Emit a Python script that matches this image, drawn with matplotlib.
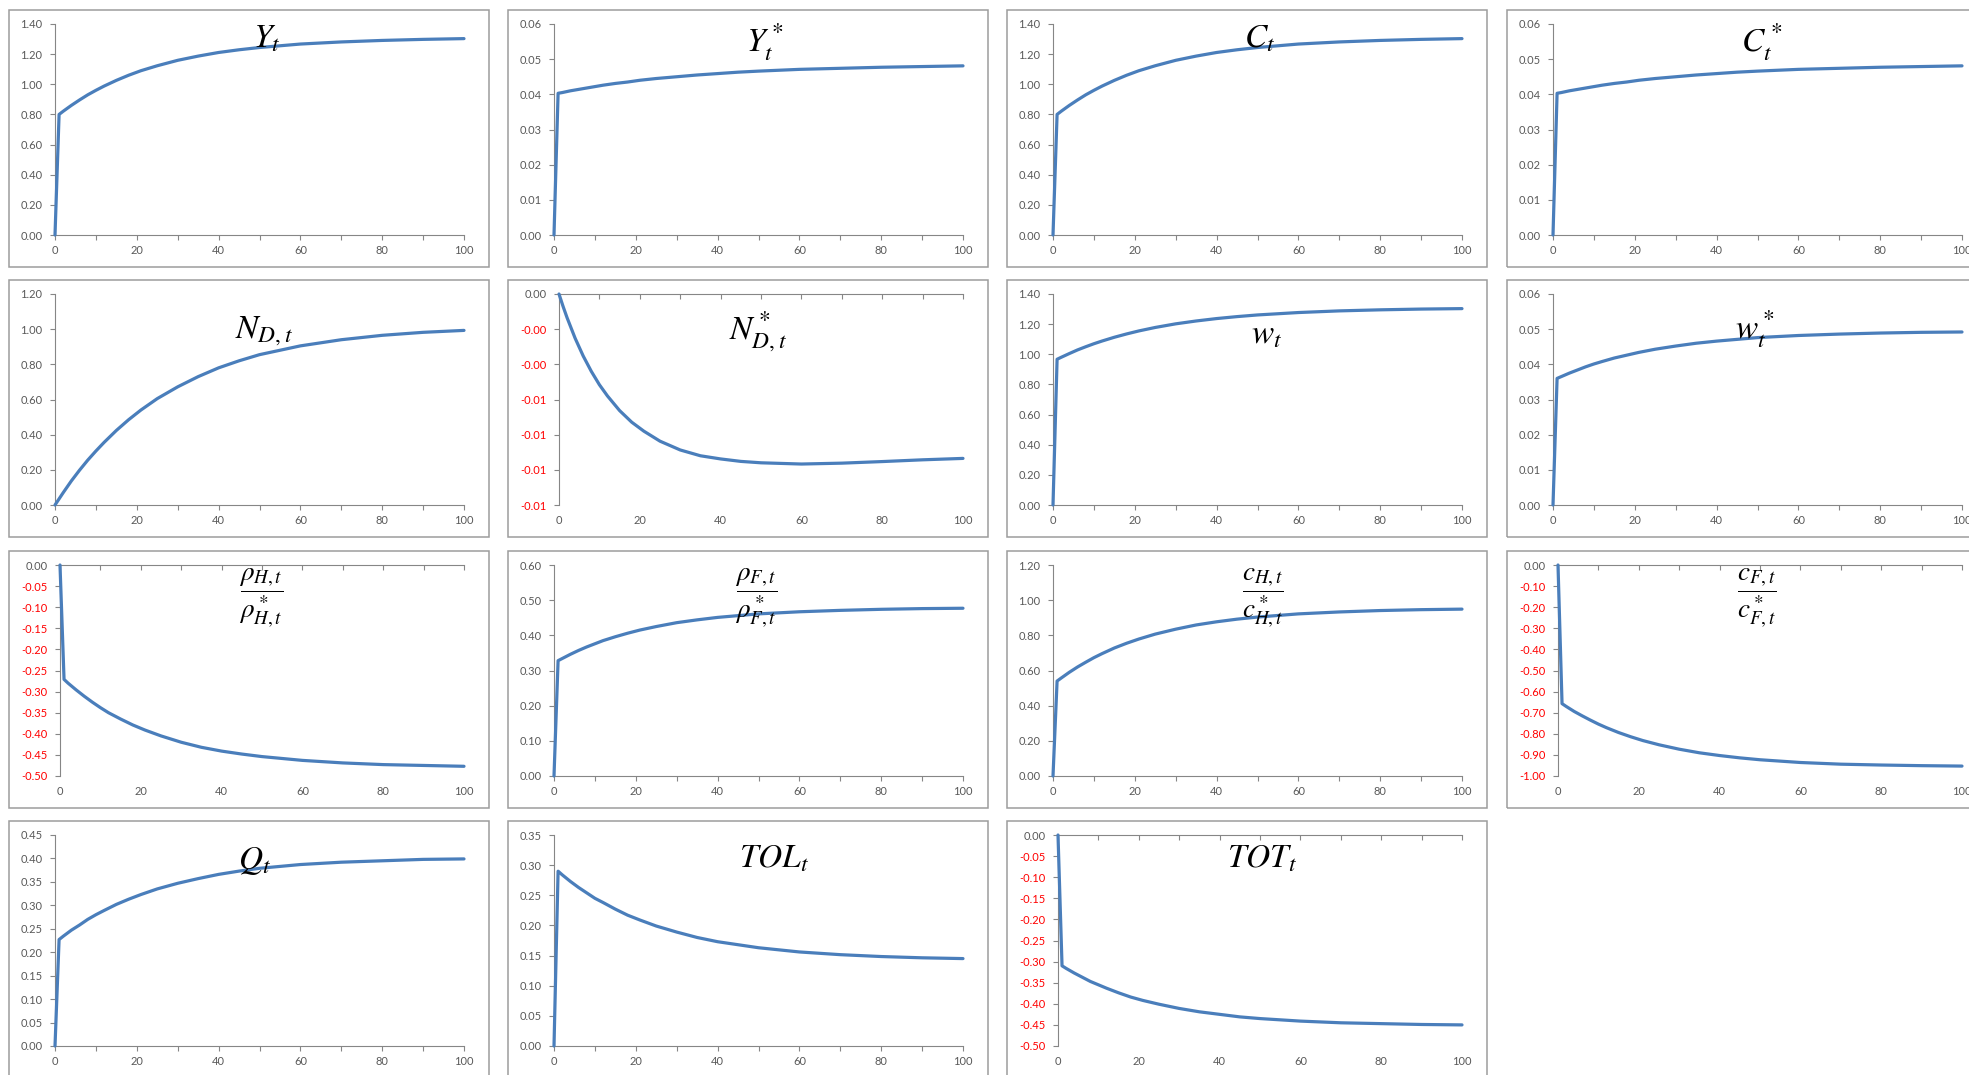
"""
Impulse responses, 15 small Excel-style panels laid out on a 4x4 grid.
Values were read off the original chart at a handful of periods.
"""

import numpy as np
import matplotlib
matplotlib.use("Agg")
import matplotlib.pyplot as plt
from matplotlib.patches import Rectangle

plt.rcParams["mathtext.fontset"] = "stix"
plt.rcParams["font.family"] = ["Lato", "DejaVu Sans"]

W, H = 1969, 1075

# periods at which the curves were read
T = [0, 1, 2, 4, 6, 8, 10, 12, 15, 18, 21, 25, 30, 35, 40, 45, 50, 60, 70, 80, 90, 100]

Y_t = [0, 0.80, 0.821, 0.86, 0.896, 0.93, 0.96, 0.988, 1.026, 1.06, 1.09,
       1.123, 1.159, 1.187, 1.211, 1.229, 1.244, 1.267, 1.281, 1.291, 1.298, 1.303]
Y_star = [0, 0.0403, 0.0405, 0.0410, 0.0414, 0.0418, 0.0422, 0.0426, 0.0431,
          0.0435, 0.0440, 0.0445, 0.0450, 0.0455, 0.0459, 0.0463, 0.0466,
          0.0471, 0.0474, 0.0477, 0.0479, 0.0481]
C_t = [0, 0.80, 0.821, 0.86, 0.896, 0.93, 0.96, 0.988, 1.026, 1.06, 1.09,
       1.123, 1.159, 1.187, 1.211, 1.229, 1.244, 1.267, 1.281, 1.291, 1.298, 1.303]
C_star = [0, 0.0403, 0.0405, 0.0410, 0.0414, 0.0418, 0.0422, 0.0426, 0.0431,
          0.0435, 0.0440, 0.0445, 0.0450, 0.0455, 0.0459, 0.0463, 0.0466,
          0.0471, 0.0474, 0.0477, 0.0479, 0.0481]
N_D = [0, 0.035, 0.07, 0.137, 0.198, 0.255, 0.307, 0.356, 0.424, 0.485, 0.54,
       0.605, 0.672, 0.73, 0.78, 0.82, 0.855, 0.905, 0.94, 0.965, 0.982, 0.993]
N_D_star = [0, -0.0007, -0.00135, -0.00252, -0.00353, -0.0044, -0.00516,
            -0.0058, -0.00663, -0.00729, -0.0078, -0.00837, -0.00887, -0.0092,
            -0.00938, -0.00952, -0.0096, -0.00967, -0.00962, -0.00953,
            -0.00943, -0.00935]
w_t = [0, 0.967, 0.98, 1.005, 1.029, 1.05, 1.07, 1.088, 1.113, 1.135, 1.155,
       1.178, 1.202, 1.221, 1.237, 1.25, 1.261, 1.277, 1.288, 1.295, 1.30, 1.303]
w_star = [0, 0.036, 0.0365, 0.0375, 0.0384, 0.0393, 0.0401, 0.0408, 0.0418,
          0.0426, 0.0434, 0.0443, 0.0452, 0.0460, 0.0466, 0.0471, 0.0476,
          0.0482, 0.0486, 0.0489, 0.0491, 0.0492]
rho_H = [0, -0.271, -0.280, -0.296, -0.311, -0.325, -0.338, -0.35, -0.365,
         -0.379, -0.391, -0.405, -0.42, -0.432, -0.441, -0.448, -0.454,
         -0.463, -0.469, -0.473, -0.475, -0.477]
rho_F = [0, 0.328, 0.334, 0.346, 0.357, 0.367, 0.376, 0.385, 0.396, 0.406,
         0.415, 0.425, 0.436, 0.444, 0.451, 0.456, 0.461, 0.467, 0.471, 0.474,
         0.476, 0.477]
c_H = [0, 0.54, 0.557, 0.59, 0.62, 0.647, 0.673, 0.696, 0.728, 0.755, 0.779,
       0.807, 0.835, 0.859, 0.877, 0.892, 0.904, 0.922, 0.933, 0.941, 0.946, 0.949]
c_F = [0, -0.657, -0.67, -0.694, -0.715, -0.735, -0.754, -0.771, -0.794,
       -0.814, -0.832, -0.852, -0.873, -0.89, -0.903, -0.914, -0.923, -0.936,
       -0.944, -0.948, -0.951, -0.953]
Q_t = [0, 0.227, 0.234, 0.247, 0.258, 0.27, 0.28, 0.289, 0.302, 0.313, 0.323,
       0.335, 0.347, 0.357, 0.366, 0.373, 0.379, 0.387, 0.392, 0.395, 0.398, 0.399]
TOL = [0, 0.29, 0.284, 0.273, 0.263, 0.254, 0.245, 0.238, 0.227, 0.217, 0.209,
       0.199, 0.189, 0.18, 0.173, 0.168, 0.163, 0.156, 0.1515, 0.1484, 0.1463, 0.145]
TOT = [0, -0.31, -0.316, -0.327, -0.337, -0.347, -0.355, -0.363, -0.374,
       -0.384, -0.392, -0.401, -0.411, -0.419, -0.425, -0.431, -0.435, -0.441,
       -0.445, -0.447, -0.449, -0.45]

X_TICKS = list(range(0, 101, 10))
X_LABELS = ["0", "", "20", "", "40", "", "60", "", "80", "", "100"]

LINE = "#4A7EBB"
AXIS = "#868686"
LABEL = "#595959"
NEG = "#FF0000"
BOX = "#9C9C9C"

# box grid in pixels
COL_X = [9, 508, 1007, 1507]
ROW_Y = [10, 280, 551, 821]
BOX_W, BOX_H = 480, 257

# (row, col, title, series, (ymin, ymax, step), title x / top in box pixels, size)
panels = [
    (0, 0, r"$Y_t$", Y_t, (0, 1.4, 0.2), (258, 14), 24),
    (0, 1, r"$Y_t^*$", Y_star, (0, 0.06, 0.01), (257, 11), 24),
    (0, 2, r"$C_t$", C_t, (0, 1.4, 0.2), (253, 14), 24),
    (0, 3, r"$C_t^*$", C_star, (0, 0.06, 0.01), (255, 11), 24),
    (1, 0, r"$N_{D,t}$", N_D, (0, 1.2, 0.2), (255, 34), 24),
    (1, 1, r"$N_{D,t}^*$", N_D_star, (-0.012, 0, 0.002), (250, 29), 24),
    (1, 2, r"$w_t$", w_t, (0, 1.4, 0.2), (260, 40), 24),
    (1, 3, r"$w_t^*$", w_star, (0, 0.06, 0.01), (248, 28), 24),
    (2, 0, r"$\dfrac{\rho_{H,t}}{\rho_{H,t}^*}$", rho_H, (-0.5, 0, 0.05), (252, 15), 19.5),
    (2, 1, r"$\dfrac{\rho_{F,t}}{\rho_{F,t}^*}$", rho_F, (0, 0.6, 0.1), (248, 15), 19.5),
    (2, 2, r"$\dfrac{c_{H,t}}{c_{H,t}^*}$", c_H, (0, 1.2, 0.2), (256, 15), 19.5),
    (2, 3, r"$\dfrac{c_{F,t}}{c_{F,t}^*}$", c_F, (-1.0, 0, 0.1), (250, 15), 19.5),
    (3, 0, r"$Q_t$", Q_t, (0, 0.45, 0.05), (246, 24), 24),
    (3, 1, r"$TOL_t$", TOL, (0, 0.35, 0.05), (266, 22), 24),
    (3, 2, r"$TOT_t$", TOT, (-0.5, 0, 0.05), (255, 22), 24),
]


def fmt(v):
    return "0.00" if abs(v) < 1e-9 else f"{v:.2f}"


fig = plt.figure(figsize=(W / 100, H / 100), dpi=100)

for row, col, title, series, (lo, hi, step), (tx, ty), tsize in panels:
    bx, by = COL_X[col], ROW_Y[row]
    fig.add_artist(Rectangle((bx / W, 1 - (by + BOX_H) / H), BOX_W / W, BOX_H / H,
                             transform=fig.transFigure, fill=False,
                             edgecolor=BOX, linewidth=1.1))

    negative = hi <= 0
    off_l = 51 if negative else 46
    top = by + 14
    ax = fig.add_axes([(bx + off_l) / W, 1 - (top + 211) / H,
                       (BOX_W - off_l - 25) / W, 211 / H])

    ax.plot(T, series, color=LINE, linewidth=2.3, solid_joinstyle="round",
            solid_capstyle="round", clip_on=False, zorder=3)

    ax.set_xlim(0, 100)
    ax.set_ylim(lo, hi)
    yt = np.round(np.arange(lo, hi + step / 2, step), 6)
    ax.set_yticks(yt, labels=[fmt(v) for v in yt])
    for lab, v in zip(ax.get_yticklabels(), yt):
        lab.set_color(NEG if v < -1e-9 else LABEL)
    ax.set_xticks(X_TICKS, labels=X_LABELS)

    for s in ax.spines.values():
        s.set_color(AXIS)
        s.set_linewidth(0.8)
    ax.spines["right"].set_visible(False)
    ax.tick_params(axis="y", direction="out", length=3.6, width=0.8, color=AXIS,
                   labelsize=8, pad=5.5)
    if negative:
        ax.spines["bottom"].set_visible(False)
        ax.tick_params(axis="x", bottom=False, top=True, labelbottom=True,
                       labeltop=False, direction="in", length=3.6, width=0.8,
                       color=AXIS, labelsize=8, labelcolor=LABEL, pad=7.0)
    else:
        ax.spines["top"].set_visible(False)
        ax.tick_params(axis="x", direction="out", length=3.6, width=0.8,
                       color=AXIS, labelsize=8, labelcolor=LABEL, pad=3.4)
    ax.patch.set_alpha(0)

    fig.text((bx + tx) / W, 1 - (by + ty) / H, title, ha="center", va="top",
             fontsize=tsize, color="black", zorder=5)

fig.savefig("out.png", dpi=100, facecolor="white")
